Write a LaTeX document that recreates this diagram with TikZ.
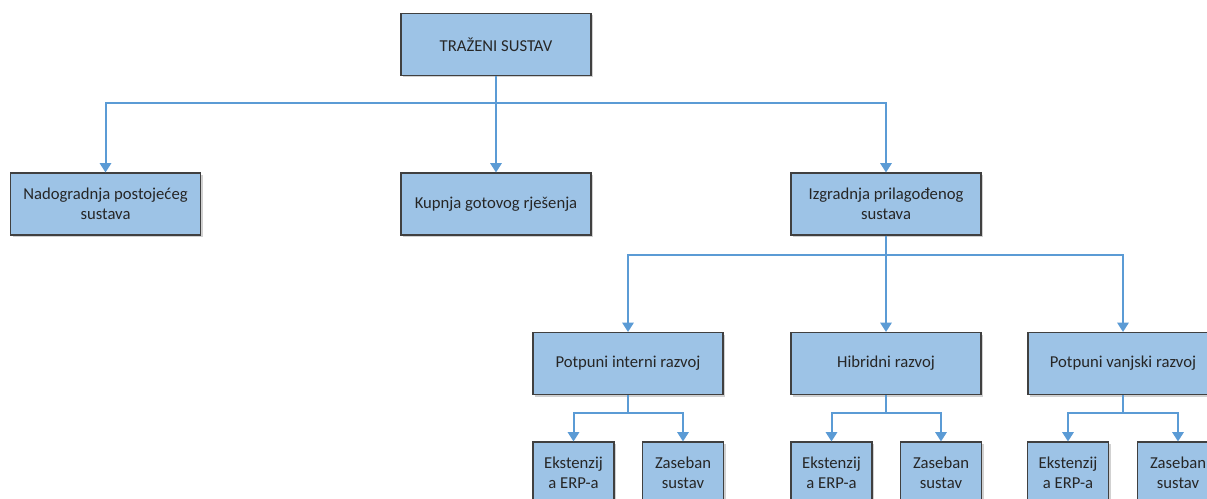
\documentclass[tikz,border=0pt]{standalone}
\usepackage{fontspec}
\setmainfont{Carlito}
\usetikzlibrary{arrows.meta,shadows}
\definecolor{boxfill}{HTML}{9DC3E6}
\definecolor{boxline}{HTML}{404040}
\definecolor{conncol}{HTML}{5B9BD5}
\definecolor{txt}{HTML}{262626}
\tikzset{
  box/.style={draw=boxline, line width=0.8pt, fill=boxfill, text=txt,
    minimum width=142.5pt, minimum height=46.5pt, align=center,
    font=\fontsize{12.5pt}{15pt}\selectfont, inner sep=2pt,
    drop shadow={shadow xshift=1.5pt, shadow yshift=-1.5pt, opacity=0.18, fill=black}},
  small/.style={box, minimum width=60.75pt},
  conn/.style={draw=conncol, line width=1.5pt,
    -{Triangle[width=8.5pt,length=7pt]}}
}
\begin{document}
\begin{tikzpicture}[x=0.75pt,y=-0.75pt]
\clip (0,0) rectangle (1207,499);
\fill[white] (0,0) rectangle (1207,499);
\node[box] (top) at (496,44.5) {TRAŽENI SUSTAV};
\node[box] (nad) at (105.5,204) {Nadogradnja postojećeg\\sustava};
\node[box] (kup) at (496,204) {Kupnja gotovog rješenja};
\node[box] (izg) at (886,204) {Izgradnja prilagođenog\\sustava};
\node[box] (pin) at (628,363.5) {Potpuni interni razvoj};
\node[box] (hib) at (886,363.5) {Hibridni razvoj};
\node[box] (pva) at (1123,363.5) {Potpuni vanjski razvoj};
\node[small] (e1) at (573.5,473) {Ekstenzij\\a ERP-a};
\node[small] (z1) at (683,473) {Zaseban\\sustav};
\node[small] (e2) at (831.5,473) {Ekstenzij\\a ERP-a};
\node[small] (z2) at (941,473) {Zaseban\\sustav};
\node[small] (e3) at (1068,473) {Ekstenzij\\a ERP-a};
\node[small] (z3) at (1178,473) {Zaseban\\sustav};
\draw[conn] (top.south) -- ++(0,27) -| (nad.north);
\draw[conn] (top.south) -- (kup.north);
\draw[conn] (top.south) -- ++(0,27) -| (izg.north);
\draw[conn] (izg.south) -- ++(0,19.5) -| (pin.north);
\draw[conn] (izg.south) -- (hib.north);
\draw[conn] (izg.south) -- ++(0,19.5) -| (pva.north);
\draw[conn] (pin.south) -- ++(0,18) -| (e1.north);
\draw[conn] (pin.south) -- ++(0,18) -| (z1.north);
\draw[conn] (hib.south) -- ++(0,18) -| (e2.north);
\draw[conn] (hib.south) -- ++(0,18) -| (z2.north);
\draw[conn] (pva.south) -- ++(0,18) -| (e3.north);
\draw[conn] (pva.south) -- ++(0,18) -| (z3.north);
\end{tikzpicture}
\end{document}
